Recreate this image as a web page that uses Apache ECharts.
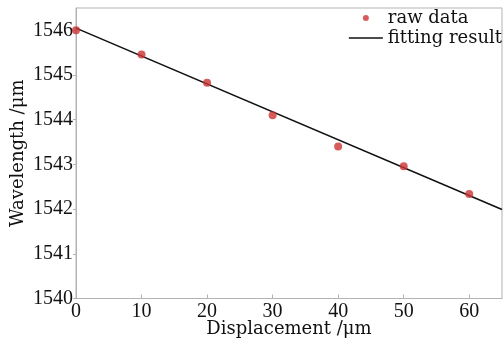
<!DOCTYPE html>
<html><head><meta charset="utf-8">
<script src="https://cdn.jsdelivr.net/npm/echarts@6/dist/echarts.min.js"></script>
<style>html,body{margin:0;padding:0;background:#fff}#c{width:503px;height:344px}</style>
</head><body><div id="c"></div>
<script>
const displacement = [0, 10, 20, 30, 40, 50, 60];
const wavelength = [1546.00, 1545.46, 1544.83, 1544.10, 1543.40, 1542.96, 1542.34];
const fitX = [0, 65];
const fitY = [1546.05, 1541.99];
const xTicks = [0, 10, 20, 30, 40, 50, 60];
const yTicks = [1540, 1541, 1542, 1543, 1544, 1545, 1546];

const chart = echarts.init(document.getElementById('c'));
const tickFont = {fontFamily: 'Liberation Serif', fontSize: 20, color: '#111'};
const titleFont = {fontFamily: 'DejaVu Serif', fontSize: 18, color: '#111'};
chart.setOption({
  animation: false,
  backgroundColor: '#fff',
  grid: {left: 76, right: 1, top: 8, bottom: 45.5, show: true, borderColor: '#b3b3b3', borderWidth: 1,
         containLabel: false, outerBoundsMode: 'none'},
  legend: {
    right: -4, top: 4, orient: 'vertical', itemWidth: 34, itemHeight: 6, itemGap: 2,
    textStyle: {fontFamily: 'DejaVu Serif', fontSize: 18, color: '#111'},
    data: [
      {name: 'raw data', icon: 'circle'},
      {name: 'fitting result', icon: 'path://M0,0 L100,0 L100,5 L0,5 Z'}
    ]
  },
  xAxis: {
    type: 'value', min: 0, max: 65, interval: 10,
    name: 'Displacement /μm', nameLocation: 'middle', nameGap: 22, nameMoveOverlap: false,
    nameTextStyle: titleFont,
    axisLine: {lineStyle: {color: '#b3b3b3'}},
    axisTick: {inside: true, length: 4, lineStyle: {color: '#b3b3b3'}},
    axisLabel: Object.assign({margin: 3, showMaxLabel: false,
      formatter: v => xTicks.includes(v) ? String(v) : ''}, tickFont),
    splitLine: {show: false}
  },
  yAxis: {
    type: 'value', min: 1540, max: 1546.5, interval: 1,
    name: 'Wavelength /μm', nameLocation: 'middle', nameGap: 49, nameMoveOverlap: false,
    nameTextStyle: titleFont,
    axisLine: {lineStyle: {color: '#b3b3b3'}},
    axisTick: {inside: false, length: 3, lineStyle: {color: '#b3b3b3'}},
    axisLabel: Object.assign({margin: 3, showMaxLabel: false,
      formatter: v => yTicks.includes(v) ? String(v) : ''}, tickFont),
    splitLine: {show: false}
  },
  series: [
    {
      name: 'raw data', type: 'scatter', symbol: 'circle', symbolSize: 8,
      itemStyle: {color: '#cc3333'},
      data: displacement.map((x, i) => [x, wavelength[i]]), z: 3
    },
    {
      name: 'fitting result', type: 'line', symbol: 'none', showSymbol: false,
      lineStyle: {color: '#111', width: 1.6},
      itemStyle: {color: '#111'},
      data: fitX.map((x, i) => [x, fitY[i]]), z: 2
    }
  ]
});
</script></body></html>
